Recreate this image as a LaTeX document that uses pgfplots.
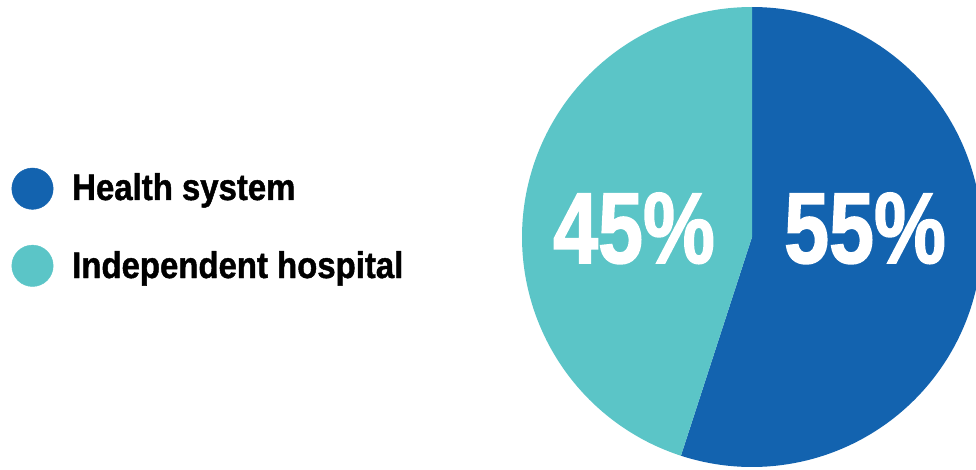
\documentclass[border=0pt]{standalone}
\usepackage{pgfplots}
\pgfplotsset{compat=1.18}
\usepackage{pgfplotstable}
\usepackage{fontspec}
\setmainfont{Liberation Sans}
\newfontfamily\legfont[FakeStretch=0.89,FakeBold=1.2]{Liberation Sans}
\newfontfamily\pctfont[FakeStretch=0.80,FakeBold=1.5]{Liberation Sans}
\definecolor{hsblue}{HTML}{1363AF}
\definecolor{ihteal}{HTML}{5BC5C7}
\pgfplotstableread{
label share
Health 55
Independent 45
}\pietable
\pgfplotstablegetelem{0}{share}\of\pietable \let\hs\pgfplotsretval
\pgfplotstablegetelem{1}{share}\of\pietable \let\ih\pgfplotsretval
\pgfmathsetmacro{\hsstart}{90-3.6*\hs}
\pgfmathsetmacro{\ihend}{90+3.6*\ih}
\begin{document}
\begin{tikzpicture}
\begin{axis}[
  width=976pt, height=469pt, scale only axis,
  xmin=0, xmax=976, ymin=0, ymax=469,
  hide axis, clip=true,
]
\addplot[draw=none, fill=hsblue, domain=\hsstart:90, samples=181, variable=\t]
  ({752+230*cos(\t)},{232+230*sin(\t)}) -- (axis cs:752,232) -- cycle;
\addplot[draw=none, fill=ihteal, domain=90:\ihend, samples=181, variable=\t]
  ({752+230*cos(\t)},{232+230*sin(\t)}) -- (axis cs:752,232) -- cycle;
\addplot[only marks, mark=*, mark size=20.7pt, color=hsblue] coordinates {(32.5,280.3)};
\addplot[only marks, mark=*, mark size=20.7pt, color=ihteal] coordinates {(32.5,203.2)};
\node[anchor=base west, inner sep=0pt, font=\legfont\fontsize{37}{40}\selectfont\bfseries] at (axis cs:72,269) {Health system};
\node[anchor=base west, inner sep=0pt, font=\legfont\fontsize{37}{40}\selectfont\bfseries] at (axis cs:72,191) {Independent hospital};
\node[anchor=base, inner sep=0pt, text=white, font=\pctfont\fontsize{101}{110}\selectfont\bfseries] at (axis cs:865,206) {\hs\%};
\node[anchor=base, inner sep=0pt, text=white, font=\pctfont\fontsize{101}{110}\selectfont\bfseries] at (axis cs:634,206) {\ih\%};
\end{axis}
\pgfresetboundingbox
\useasboundingbox (0,0) rectangle (976pt,469pt);
\end{tikzpicture}
\end{document}
